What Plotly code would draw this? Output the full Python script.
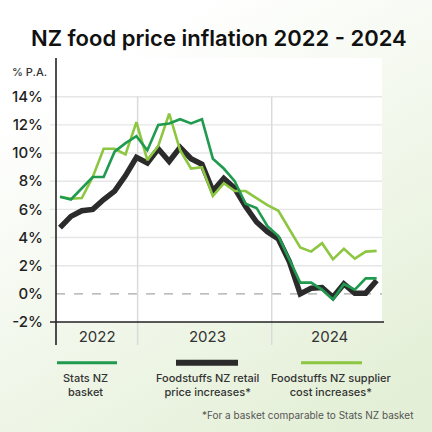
import base64

import plotly.graph_objects as go

# %% data (annual % change, monthly, May 2022 - Oct 2024)
months = [
    "May 22", "Jun 22", "Jul 22", "Aug 22", "Sep 22", "Oct 22", "Nov 22", "Dec 22",
    "Jan 23", "Feb 23", "Mar 23", "Apr 23", "May 23", "Jun 23", "Jul 23", "Aug 23",
    "Sep 23", "Oct 23", "Nov 23", "Dec 23", "Jan 24", "Feb 24", "Mar 24", "Apr 24",
    "May 24", "Jun 24", "Jul 24", "Aug 24", "Sep 24", "Oct 24",
]
stats_nz = [
    6.9, 6.7, 7.5, 8.3, 8.3, 10.1, 10.7, 11.2,
    10.2, 12.0, 12.1, 12.4, 12.1, 12.4, 9.6, 8.9,
    8.0, 6.4, 6.1, 4.8, 4.1, 2.4, 0.8, 0.8,
    0.3, -0.4, 0.7, 0.3, 1.1, 1.1,
]
retail = [
    4.7, 5.5, 5.9, 6.0, 6.7, 7.3, 8.4, 9.7,
    9.3, 10.3, 9.4, 10.4, 9.6, 9.2, 7.3, 8.2,
    7.5, 6.2, 5.1, 4.4, 3.9, 2.3, 0.0, 0.4,
    0.45, -0.25, 0.7, 0.05, 0.05, 0.95,
]
supplier = [
    6.9, 6.75, 6.8, 8.3, 10.3, 10.3, 9.9, 12.2,
    9.5, 10.5, 12.8, 10.2, 8.9, 9.0, 6.95, 7.85,
    7.3, 7.3, 6.8, 6.3, 5.9, 4.65, 3.3, 3.0,
    3.6, 2.45, 3.2, 2.5, 3.0, 3.05,
]
y_ticks = [-2, 0, 2, 4, 6, 8, 10, 12, 14]
years = ["2022", "2023", "2024"]

# %% layout geometry (pixels of a 432 x 432 canvas)
W = H = 432
ML, MR, MT, MB = 56, 50, 58, 110
PW, PH = W - ML - MR, H - MT - MB


def fx(px):
    return (px - ML) / PW


def fy(py):
    return (H - MB - py) / PH


GREEN = "#1f9a4e"
LIGHT = "#8dc641"
DARK = "#2b2b2b"
FONT = "Inter"

year_centres = [3.4, 13.5, 24.7]
year_edges = [7.11, 19.39]

x = list(range(len(months)))

fig = go.Figure()
fig.add_trace(go.Scatter(x=x, y=retail, mode="lines", name="Foodstuffs NZ retail",
                         line=dict(color=DARK, width=5.5), hovertext=months))
fig.add_trace(go.Scatter(x=x, y=supplier, mode="lines", name="Foodstuffs NZ supplier",
                         line=dict(color=LIGHT, width=2.6), hovertext=months))
fig.add_trace(go.Scatter(x=x, y=stats_nz, mode="lines", name="Stats NZ",
                         line=dict(color=GREEN, width=2.6), hovertext=months))

# soft green background
svg = (
    '<svg xmlns="http://www.w3.org/2000/svg" width="432" height="432">'
    '<defs><linearGradient id="g" x1="0.2" y1="0" x2="0.8" y2="1">'
    '<stop offset="0.12" stop-color="#ffffff"/>'
    '<stop offset="1" stop-color="#e3efd6"/></linearGradient></defs>'
    '<rect width="432" height="432" fill="url(#g)"/></svg>'
)
bg = "data:image/svg+xml;base64," + base64.b64encode(svg.encode()).decode()

shapes = [
    # white plot panel
    dict(type="rect", xref="paper", yref="paper", x0=0, x1=1, y0=0, y1=1,
         fillcolor="white", line_width=0, layer="below"),
]
for v in y_ticks:
    if v in (-2, 0):
        continue
    shapes.append(dict(type="line", xref="paper", yref="y", x0=fx(50), x1=1, y0=v, y1=v,
                       line=dict(color="#e6e6e6", width=1.4), layer="below"))
shapes.append(dict(type="line", xref="paper", yref="y", x0=0, x1=1, y0=0, y1=0,
                   line=dict(color="#a8a8a8", width=1.3, dash="dash"), layer="below"))
for e in year_edges:
    shapes.append(dict(type="line", xref="x", yref="paper", x0=e, x1=e,
                       y0=fy(345), y1=fy(96.7),
                       line=dict(color="#dadada", width=1.5), layer="below"))
# axis lines
shapes.append(dict(type="line", xref="paper", yref="paper", x0=0, x1=0, y0=fy(345), y1=1,
                   line=dict(color="#222", width=1.6)))
shapes.append(dict(type="line", xref="paper", yref="paper", x0=fx(50), x1=fx(384), y0=0, y1=0,
                   line=dict(color="#222", width=1.6)))

# legend keys
legend = [
    ("Stats NZ<br>basket", GREEN, 3, 57, 117, 85.7),
    ("Foodstuffs NZ retail<br>price increases*", DARK, 6, 176, 238, 207),
    ("Foodstuffs NZ supplier<br>cost increases*", LIGHT, 3, 301, 362, 330.5),
]
annotations = []
for text, col, w, a, b, c in legend:
    shapes.append(dict(type="line", xref="paper", yref="paper", x0=fx(a), x1=fx(b),
                       y0=fy(362.7), y1=fy(362.7), line=dict(color=col, width=w)))
    annotations.append(dict(text=text, xref="paper", yref="paper", x=fx(c), y=fy(384.5),
                            xanchor="center", yanchor="middle",
                            showarrow=False, align="center",
                            font=dict(family=FONT, size=11, color="#333", weight=500)))

annotations += [
    dict(text="NZ food price inflation 2022 - 2024", xref="paper", yref="paper",
         x=fx(219), y=fy(37.5), xanchor="center", yanchor="middle", showarrow=False,
         font=dict(family=FONT, size=22, color="#111", weight=600)),
    dict(text="% P.A.", xref="paper", yref="paper", x=fx(29.5), y=fy(72),
         xanchor="center", yanchor="middle", showarrow=False,
         font=dict(family=FONT, size=11, color="#333", weight=500)),
    dict(text="*For a basket comparable to Stats NZ basket", xref="paper", yref="paper",
         x=fx(416), y=fy(415), xanchor="right", yanchor="middle", showarrow=False,
         font=dict(family=FONT, size=10, color="#555")),
]

fig.update_layout(
    width=W,
    height=H,
    margin=dict(l=ML, r=MR, t=MT, b=MB, pad=0),
    paper_bgcolor="white",
    plot_bgcolor="rgba(0,0,0,0)",
    showlegend=False,
    shapes=shapes,
    annotations=annotations,
    images=[dict(source=bg, xref="paper", yref="paper", x=fx(0), y=fy(0),
                 sizex=W / PW, sizey=H / PH, xanchor="left", yanchor="top",
                 sizing="stretch", layer="below")],
    font=dict(family=FONT, color="#222"),
)
fig.update_xaxes(
    range=[-0.366, 29.49],
    showgrid=False,
    zeroline=False,
    showline=False,
    tickvals=year_centres,
    ticktext=years,
    ticks="",
    ticklabelstandoff=4,
    tickfont=dict(family=FONT, size=15, color="#333"),
)
fig.update_yaxes(
    range=[-2, 16.75],
    showgrid=False,
    zeroline=False,
    showline=False,
    tickvals=y_ticks,
    ticktext=[f"{v}%" for v in y_ticks],
    ticks="",
    ticklabelstandoff=12,
    tickfont=dict(family=FONT, size=15, color="#222", weight=500),
)

fig.write_html(
    "out.html",
    config={"displayModeBar": False},
    post_script="document.body.style.margin='0';",
)
